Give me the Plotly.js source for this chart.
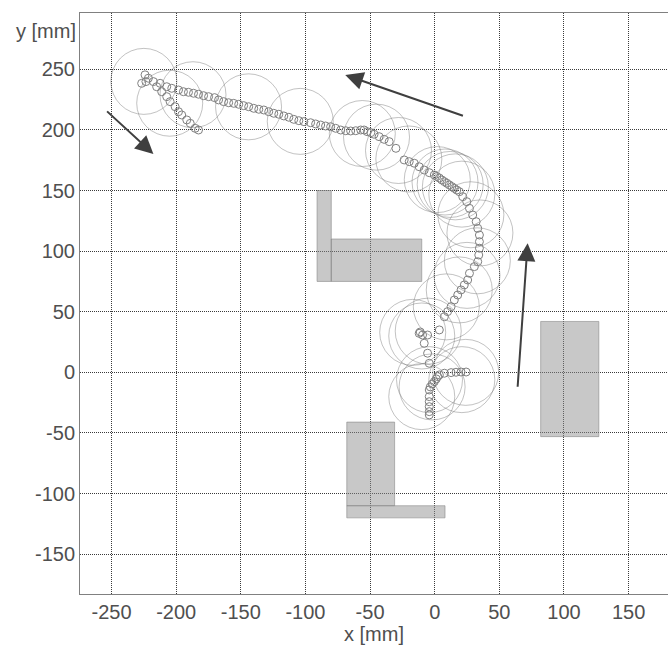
<!DOCTYPE html>
<html>
<head>
<meta charset="utf-8">
<script src="https://cdn.plot.ly/plotly-3.0.1.min.js"></script>
<style>html,body{margin:0;padding:0;background:#fff;}#chart{width:668px;height:647px;}</style>
</head>
<body>
<div id="chart"></div>
<script>
// Trajectory samples (small circles), in mm
const pathX = [-4.2,-4.2,-4.2,-4.2,-4.2,-4.2,-3.4,-1.9,-0.3,1.2,2.3,3.6,7.5,12.7,16.5,20.4,24.3,
  -4.2,-5.5,-8.1,-12.0,-11.2,-9.4,-5.5,3.6,
  7.5,10.0,12.7,15.2,17.8,20.4,22.9,25.5,26.9,30.7,33.3,34.1,34.6,34.6,34.6,33.3,32.1,29.4,26.9,24.8,21.7,
  19.1,17.1,15.2,13.3,11.3,9.4,7.5,5.5,3.6,1.6,-0.3,-4.2,-8.1,-12.0,-15.8,-19.7,-23.6,
  -30.0,-35.2,-39.1,-43.0,-46.9,-49.4,-52.1,-54.6,-57.2,-61.1,-65.0,-68.8,-72.7,-76.6,-80.5,-84.4,-88.2,-92.1,-96.0,
  -101.2,-105.1,-109.0,-112.8,-116.7,-120.6,-124.5,-128.4,-132.2,-136.1,-140.0,-143.9,-147.8,-151.6,-155.5,-159.4,
  -163.3,-167.2,-170.3,-174.9,-178.8,-182.7,-186.6,-190.5,-194.4,-198.2,-203.4,-207.3,-212.4,-217.6,-221.5,-224.1,-226.7,-223.4,
  -215.1,-211.2,-207.3,-204.7,-200.8,-198.2,-195.7,-191.8,-189.1,-185.3,-182.7];
const pathY = [-35.1,-32.4,-28.3,-24.2,-20.0,-14.5,-12.0,-9.6,-7.7,-5.4,-3.5,-2.1,-0.7,-0.2,0.1,0.3,0.3,
  7.5,15.8,24.0,32.2,33.3,30.8,30.8,35.0,
  45.9,50.1,54.2,59.7,63.8,68.0,72.1,76.2,81.7,87.2,91.3,96.8,102.4,107.8,113.3,118.8,124.3,129.8,135.3,140.8,144.9,
  149.0,150.4,151.8,153.2,154.6,156.0,157.3,158.7,160.3,161.6,162.8,164.7,166.9,169.6,172.5,173.8,175.2,
  184.8,190.3,192.2,194.4,196.4,197.7,198.5,199.9,199.9,199.3,199.1,199.3,199.9,201.3,202.6,203.2,204.0,204.9,205.9,
  206.8,207.6,208.7,210.4,211.5,212.9,213.7,215.0,216.4,217.0,217.8,219.1,220.0,221.1,221.9,222.4,
  223.3,224.7,226.6,227.4,228.2,229.4,230.2,231.0,231.5,232.9,234.3,235.6,238.4,239.8,242.6,245.4,238.4,239.8,
  235.6,231.5,227.4,223.3,219.1,215.0,212.3,208.2,205.4,201.3,199.9];

// Sensor footprints (large circles), centres in mm
const footX = [-225,-205,-187,-144,-104,-56,-45,-28,-20,2,8,12,16,21,28,35,33,25,19,9,-10,-17,-5,-4,-2,-10,21,24];
const footY = [240,222,229,219,207,197,194,183,176,159,157,155,153,147,130,115,92,80,68,54,30,33,34,-6,-12,-20,-6,0];

// Obstacles as polygons (mm)
const obstacleXs = [
  [-91,-80,-80,-91],
  [-80,-10,-10,-80],
  [-68,-31,-31,-68],
  [-68,8,8,-68],
  [82,127,127,82]
];
const obstacleYs = [
  [75,75,150,150],
  [75,75,110,110],
  [-110,-110,-41,-41],
  [-120,-120,-110,-110],
  [-53,-53,42,42]
];

// Motion direction arrows (mm)
const arrowTailX = [-254.6, 23.0, 64.1];
const arrowTailY = [216.4, 211.2, -13.1];
const arrowTipX = [-217.6, -69.2, 71.9];
const arrowTipY = [180.1, 245.3, 106.5];

const xTicks = [-250,-200,-150,-100,-50,0,50,100,150];
const xTickText = ['-250','-200','-150','-100','-50','0','50','100','150'];
const yTicks = [-150,-100,-50,0,50,100,150,200,250];
const yTickText = ['-150','-100','-50','0','50','100','150','200','250'];

const FONT = 'Liberation Sans, Arial, sans-serif';
const TXT = '#4f4f4f';
const FS = 20;

const traces = [];
obstacleXs.forEach((xs, i) => {
  traces.push({
    type: 'scatter', mode: 'lines', fill: 'toself',
    x: xs.concat([xs[0]]), y: obstacleYs[i].concat([obstacleYs[i][0]]),
    fillcolor: 'rgba(140,140,140,0.48)',
    line: {color: 'rgba(130,130,130,0.7)', width: 0.8},
    hoverinfo: 'skip', showlegend: false
  });
});
traces.push({
  type: 'scatter', mode: 'markers', x: footX, y: footY,
  marker: {symbol: 'circle-open', size: 66, color: 'rgba(120,120,120,0.5)', line: {width: 0.9, color: 'rgba(120,120,120,0.5)'}},
  hoverinfo: 'skip', showlegend: false
});
traces.push({
  type: 'scatter', mode: 'markers', x: pathX, y: pathY,
  marker: {symbol: 'circle-open', size: 8, color: '#808080', line: {width: 1, color: '#808080'}},
  hoverinfo: 'skip', showlegend: false
});

const annotations = arrowTipX.map((x, i) => ({
  x: x, y: arrowTipY[i], xref: 'x', yref: 'y',
  ax: arrowTailX[i], ay: arrowTailY[i], axref: 'x', ayref: 'y',
  showarrow: true, text: '', arrowhead: 2, arrowsize: 1.8, arrowwidth: 2, arrowcolor: '#3f3f3f'
}));
annotations.push({
  text: 'y [mm]', xref: 'paper', yref: 'paper', x: 0, y: 1,
  xanchor: 'right', yanchor: 'middle', xshift: -2, yshift: -18,
  showarrow: false, font: {family: FONT, size: FS, color: TXT}
});

const axisCommon = {
  showgrid: true, gridcolor: '#3a3a3a', griddash: '1px,1px', gridwidth: 1,
  zeroline: false, showline: true, linecolor: '#808080', linewidth: 1,
  ticks: '', tickfont: {family: FONT, size: FS, color: TXT}
};

const layout = {
  width: 668, height: 647,
  margin: {l: 80, r: 0, t: 13, b: 53},
  paper_bgcolor: '#fff', plot_bgcolor: '#fff',
  showlegend: false,
  xaxis: Object.assign({}, axisCommon, {
    range: [-274.4, 180.5], tickvals: xTicks, ticktext: xTickText, mirror: true,
    title: {text: 'x [mm]', font: {family: FONT, size: FS, color: TXT}, standoff: 3}
  }),
  yaxis: Object.assign({}, axisCommon, {
    range: [-182.8, 296.4], tickvals: yTicks, ticktext: yTickText, mirror: false
  }),
  annotations: annotations
};

Plotly.newPlot('chart', traces, layout, {staticPlot: true, displayModeBar: false});
</script>
</body>
</html>
